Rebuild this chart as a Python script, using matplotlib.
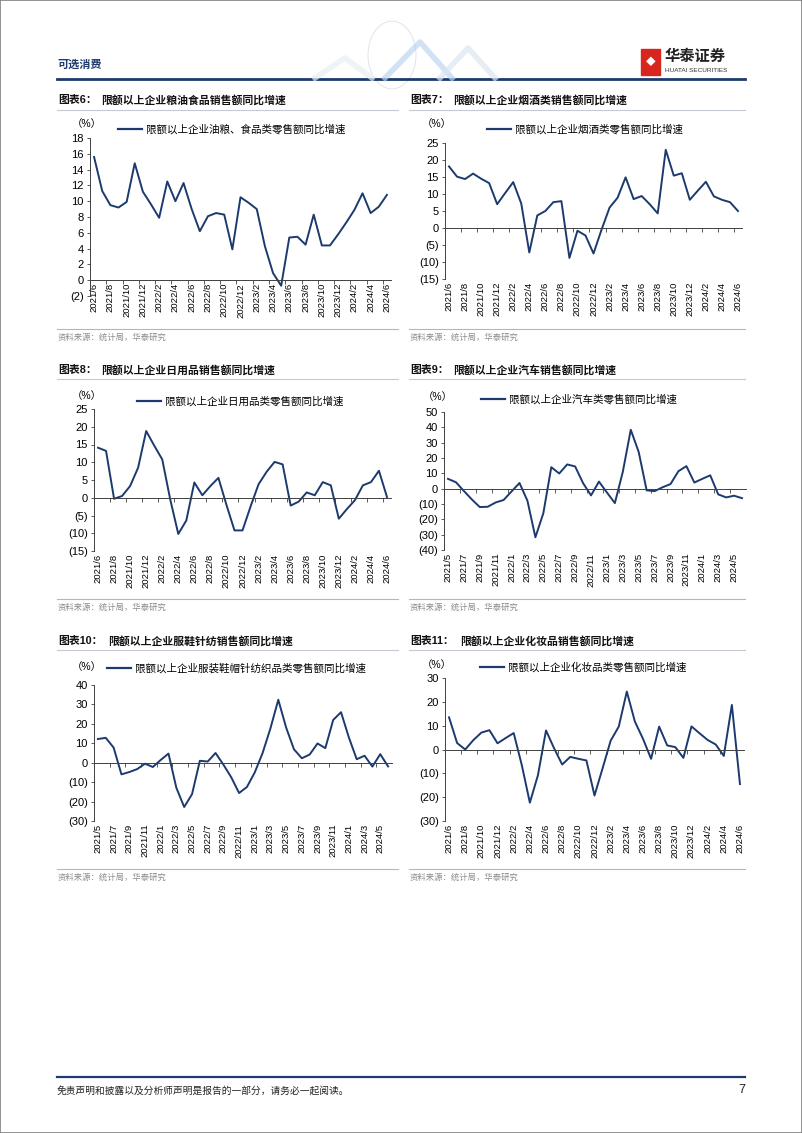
import numpy as np
import pandas as pd
import matplotlib
matplotlib.use('Agg')
import matplotlib.pyplot as plt
from matplotlib.ticker import FuncFormatter
from matplotlib.patches import Rectangle, Circle
from matplotlib.lines import Line2D

plt.rcParams['font.family'] = ['Liberation Sans', 'Noto Sans CJK SC']

#%% data
months_jun = [f'{p.year}/{p.month}' for p in pd.period_range('2021-06', '2024-06', freq='M')]
months_may = [f'{p.year}/{p.month}' for p in pd.period_range('2021-05', '2024-06', freq='M')]

grain_food = [15.6, 11.3, 9.5, 9.2, 9.9, 14.8, 11.2, 9.6, 7.9, 12.5,
              10.0, 12.3, 9.0, 6.2, 8.1, 8.5, 8.3, 3.9, 10.5, 9.8,
              9.0, 4.3, 0.9, -0.7, 5.4, 5.5, 4.5, 8.3, 4.4, 4.4,
              5.8, 7.3, 8.9, 11.0, 8.5, 9.3, 10.8]
tobacco_liquor = [18.1, 15.1, 14.4, 16.0, 14.5, 13.2, 7.0, 10.3, 13.5, 7.2,
                  -7.2, 3.7, 5.0, 7.6, 7.9, -8.8, -0.8, -2.2, -7.5, -0.5,
                  6.0, 8.9, 14.9, 8.5, 9.4, 7.0, 4.3, 23.0, 15.4, 16.1,
                  8.3, 11.0, 13.6, 9.3, 8.3, 7.6, 5.0]
daily_use = [14.1, 13.2, -0.3, 0.5, 3.3, 8.5, 18.8, 14.7, 10.8, -0.5,
             -10.2, -6.4, 4.3, 0.7, 3.3, 5.6, -2.0, -9.2, -9.2, -2.5,
             3.8, 7.3, 10.1, 9.4, -2.2, -1.1, 1.5, 0.7, 4.4, 3.5,
             -5.9, -3.2, -0.7, 3.5, 4.4, 7.6, 0.2]
autos = [6.4, 4.2, -1.5, -7.0, -12.0, -11.8, -9.0, -7.4, -1.8, 3.7,
         -7.9, -31.7, -16.0, 14.0, 9.9, 15.8, 14.5, 3.6, -4.4, 4.6,
         -2.5, -9.4, 11.0, 38.4, 23.9, -1.1, -1.6, 0.9, 3.0, 11.4,
         14.7, 4.0, 6.4, 8.7, -3.7, -5.7, -4.6, -6.2]
apparel = [12.2, 12.8, 7.8, -6.0, -4.8, -3.3, -0.5, -2.2, 1.4, 4.7,
           -12.9, -22.8, -16.2, 1.0, 0.6, 5.0, -1.0, -7.5, -15.6, -12.5,
           -5.0, 5.0, 17.7, 32.4, 18.1, 6.9, 2.3, 4.2, 9.9, 7.5,
           22.0, 26.0, 13.0, 1.8, 3.6, -2.0, 4.4, -1.9]
cosmetics = [13.5, 2.7, 0.0, 3.9, 7.1, 8.1, 2.6, 4.8, 6.9, -6.5,
             -22.3, -10.8, 8.0, 0.5, -6.3, -3.1, -3.9, -4.6, -19.3, -7.9,
             3.7, 9.6, 24.3, 11.7, 4.5, -3.9, 9.6, 1.7, 1.0, -3.5,
             9.7, 6.8, 4.0, 2.1, -2.7, 18.7, -14.5]

#%% page setup
W, H = 802, 1133
NAVY = '#1c3a6e'
fig = plt.figure(figsize=(W / 100, H / 100), dpi=100)

def fx(x):
    return x / W

def fy(y):
    return 1 - y / H

def rect(l, t, r, b):
    return [l / W, 1 - b / H, (r - l) / W, (b - t) / H]

def hline(x0, x1, y, color, lw):
    fig.add_artist(Line2D([fx(x0), fx(x1)], [fy(y), fy(y)], color=color, lw=lw,
                          transform=fig.transFigure))

def neg_fmt(v, pos):
    return f'({abs(int(round(v)))})' if v < 0 else f'{int(round(v))}'

def panel(box, months, values, ylim, step, legend_txt, leg_xy, pct_xy, labels_at_zero=False):
    ax = fig.add_axes(rect(*box))
    n = len(values)
    x = np.arange(n)
    ax.plot(x, values, color=NAVY, lw=1.4)
    ax.set_xlim(-0.5, n - 0.5)
    ax.set_ylim(*ylim)
    ax.set_yticks(np.arange(ylim[0], ylim[1] + step / 2, step))
    ax.yaxis.set_major_formatter(FuncFormatter(neg_fmt))
    ax.tick_params(axis='y', labelsize=8, length=2.5, width=0.6, color='#404040', pad=2)
    for s in ('top', 'right'):
        ax.spines[s].set_visible(False)
    ax.spines['left'].set_color('#404040')
    ax.spines['left'].set_linewidth(0.7)
    # zero line with tick marks on the category boundaries
    ax.spines['bottom'].set_position(('data', 0))
    ax.spines['bottom'].set_color('#404040')
    ax.spines['bottom'].set_linewidth(0.7)
    ax.set_xticks(np.arange(0, n, 2) - 0.5)
    ax.tick_params(axis='x', length=3, width=0.6, color='#404040', labelbottom=False)
    # month labels
    loc = (0 - ylim[0]) / (ylim[1] - ylim[0]) if labels_at_zero else 0
    sec = ax.secondary_xaxis(loc)
    sec.set_xticks(x[::2], [months[i] for i in x[::2]], rotation=90, fontsize=6.8)
    sec.tick_params(length=0, pad=2)
    sec.spines['bottom'].set_visible(False)
    # legend and unit
    ax.legend([Line2D([0], [0], color=NAVY, lw=1.6)], [legend_txt], loc='center left',
              bbox_to_anchor=(fx(leg_xy[0]), fy(leg_xy[1])), bbox_transform=fig.transFigure,
              frameon=False, borderpad=0, borderaxespad=0, handlelength=2.3,
              handletextpad=0.35, prop={'size': 7.6})
    fig.text(fx(pct_xy[0]), fy(pct_xy[1]), '（%）', fontsize=7.5, ha='center', va='center')
    return ax

def frame(x0, x1, y_title, y_tline, y_sline, title_no, title_txt):
    fig.text(fx(x0 + 1), fy(y_title), f'图表{title_no}：', fontsize=7.8, fontweight='bold',
             va='center', color='#111111')
    gap = 44 if len(title_no) == 1 else 51
    fig.text(fx(x0 + gap), fy(y_title), title_txt, fontsize=7.8, fontweight='bold',
             va='center', color='#111111')
    hline(x0, x1, y_tline, '#c3cad6', 0.8)
    hline(x0, x1, y_sline, '#a9b8cf', 0.8)
    fig.text(fx(x0 + 1), fy(y_sline + 9), '资料来源：统计局，华泰研究', fontsize=6,
             va='center', color='#8c8c8c')

#%% header
fig.text(fx(57), fy(65), '可选消费', fontsize=8, color=NAVY, fontweight='bold', va='center')
hline(57, 745, 79, NAVY, 2.0)
# faint globe decoration
fig.add_artist(Circle((fx(392), fy(55)), 24 / W, transform=fig.transFigure,
                      fill=False, ec='#e0e4ea', lw=0.7))
for xs, ys, c in [((315, 345, 372), (78, 58, 78), '#e8eef5'),
                  ((385, 420, 452), (78, 42, 78), '#bcd6ee'),
                  ((440, 468, 495), (78, 48, 78), '#dde6f0')]:
    fig.add_artist(Line2D([fx(v) for v in xs], [fy(v) for v in ys], color=c, lw=4,
                          transform=fig.transFigure, alpha=0.7))
# logo
fig.add_artist(Rectangle((fx(641), fy(75)), 19 / W, 26 / H, transform=fig.transFigure,
                         color='#d7261e'))
fig.text(fx(650.5), fy(62), '◆', fontsize=7, color='white', ha='center', va='center')
fig.text(fx(665), fy(57), '华泰证券', fontsize=11, fontweight='bold', va='center', color='#222222')
fig.text(fx(665), fy(71), 'HUATAI SECURITIES', fontsize=4.6, va='center', color='#333333')

#%% charts
frame(57, 398, 100, 110, 329, '6', '限额以上企业粮油食品销售额同比增速')
panel((90, 138, 391, 296), months_jun, grain_food, (-2, 18), 2,
      '限额以上企业油粮、食品类零售额同比增速', (118, 129), (87, 124), labels_at_zero=True)

frame(409, 745, 100, 110, 329, '7', '限额以上企业烟酒类销售额同比增速')
panel((445, 143, 742, 279), months_jun, tobacco_liquor, (-15, 25), 5,
      '限额以上企业烟酒类零售额同比增速', (487, 129), (437, 124))

frame(57, 398, 370, 379, 599, '8', '限额以上企业日用品销售额同比增速')
panel((94, 409, 391, 551), months_jun, daily_use, (-15, 25), 5,
      '限额以上企业日用品类零售额同比增速', (137, 401), (87, 396))

frame(409, 745, 370, 379, 599, '9', '限额以上企业汽车销售额同比增速')
panel((444, 412, 746, 550), months_may, autos, (-40, 50), 10,
      '限额以上企业汽车类零售额同比增速', (481, 399), (438, 397))

frame(57, 398, 641, 650, 869, '10', '限额以上企业服鞋针纺销售额同比增速')
panel((94, 685, 392, 821), months_may, apparel, (-30, 40), 10,
      '限额以上企业服装鞋帽针纺织品类零售额同比增速', (107, 668), (87, 667))

frame(409, 745, 641, 650, 869, '11', '限额以上企业化妆品销售额同比增速')
panel((445, 678, 744, 821), months_jun, cosmetics, (-30, 30), 10,
      '限额以上企业化妆品类零售额同比增速', (480, 667), (437, 665))

#%% footer
hline(57, 745, 1077, NAVY, 1.6)
fig.text(fx(57), fy(1091), '免责声明和披露以及分析师声明是报告的一部分，请务必一起阅读。',
         fontsize=7, style='italic', va='center', color='#222222')
fig.text(fx(745), fy(1090), '7', fontsize=9, ha='right', va='center', color='#222222')
fig.add_artist(Rectangle((0, 0), 1, 1, transform=fig.transFigure, fill=False,
                         ec='#7f7f7f', lw=1.2))

fig.savefig('out.png', dpi=100)
